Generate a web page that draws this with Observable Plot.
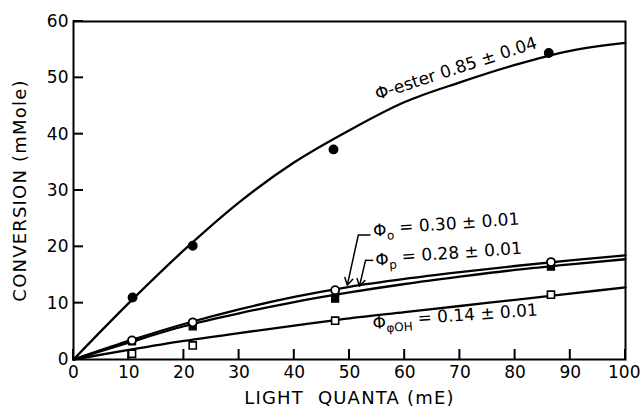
<!DOCTYPE html>
<html><head><meta charset="utf-8">
<script src="https://cdn.jsdelivr.net/npm/d3@7"></script>
<script src="https://cdn.jsdelivr.net/npm/@observablehq/plot@0.6"></script>
<style>html,body{margin:0;padding:0;background:#fff}</style>
</head><body><div id="chart"></div>
<script>
// Fitted curves, read at every 10 mE
const curveX = [0, 10, 20, 30, 40, 50, 60, 70, 80, 90, 100];
const esterCurve = [0, 10.0, 19.4, 27.9, 35.0, 40.7, 45.7, 49.2, 52.3, 54.8, 56.2];
const orthoCurve = [0, 3.3, 6.3, 8.9, 11.1, 12.9, 14.3, 15.5, 16.6, 17.6, 18.5];
const paraCurve = [0, 3.0, 5.9, 8.2, 10.2, 11.9, 13.4, 14.7, 15.9, 16.9, 17.8];
const phenolCurve = [0, 1.7, 3.3, 4.7, 6.0, 7.3, 8.4, 9.5, 10.6, 11.7, 12.8];

// Measured points
const esterX = [10.7, 21.6, 47.1, 86.1];
const esterY = [11.0, 20.2, 37.3, 54.4];
const measX = [10.6, 21.6, 47.4, 86.5];
const orthoY = [3.4, 6.6, 12.3, 17.3];
const paraY = [3.2, 5.9, 10.8, 16.5];
const phenolY = [1.0, 2.5, 6.9, 11.5];

// Ticks
const xTicks = [0, 10, 20, 30, 40, 50, 60, 70, 80, 90, 100];
const yTicks = [0, 10, 20, 30, 40, 50, 60];

// Annotations
const labelText = ["Φ-ester 0.85 ± 0.04", "Φ_{o} = 0.30 ± 0.01", "Φ_{p} = 0.28 ± 0.01", "Φ_{φOH} = 0.14 ± 0.01"];
const labelX = [54.7, 54.3, 54.7, 54.2];
const labelY = [47.0, 22.8, 17.6, 6.4];
const labelAngle = [-18, -4, -4, -4];

// Pointer arrows for Φo and Φp
const pointerStartX = [53.8, 54.3];
const pointerStartY = [22.1, 17.6];
const pointerElbowX = [51.6, 52.9];
const pointerTipX = [49.6, 51.8];
const pointerTipY = [13.2, 13.0];

const curve = (ys) => curveX.map((x, i) => ({x, y: ys[i]}));
const pts = (xs, ys) => xs.map((x, i) => ({x, y: ys[i]}));
const labels = labelText.map((t, i) => ({t, x: labelX[i], y: labelY[i], a: labelAngle[i]}));
const pointers = pointerStartX.map((x, i) => ({x1: x, y1: pointerStartY[i], xe: pointerElbowX[i], x2: pointerTipX[i], y2: pointerTipY[i]}));

const FONT = "DejaVu Sans";
const lw = 2.3;
const TICK = 10; // inward tick length, px

const chart = Plot.plot({
  width: 640, height: 409,
  marginLeft: 73, marginRight: 15, marginTop: 21, marginBottom: 50,
  x: {domain: [0, 100]},
  y: {domain: [0, 60]},
  style: {fontFamily: FONT, fontSize: "17px", color: "black", background: "white"},
  marks: [
    Plot.axisX({ticks: xTicks, tickSize: 0, tickPadding: 6, tickFormat: d => d, fontSize: 17,
      label: "LIGHT  QUANTA (mE)", labelAnchor: "center", labelOffset: 44, labelArrow: false}),
    Plot.axisY({ticks: yTicks, tickSize: 0, tickPadding: 5, tickFormat: d => d, fontSize: 17,
      label: "CONVERSION (mMole)", labelAnchor: "center", labelOffset: 60, labelArrow: false}),
    Plot.frame({stroke: "black", strokeWidth: 2}),
    Plot.line(curve(esterCurve), {x: "x", y: "y", curve: "monotone-x", stroke: "black", strokeWidth: lw}),
    Plot.line(curve(orthoCurve), {x: "x", y: "y", curve: "monotone-x", stroke: "black", strokeWidth: lw}),
    Plot.line(curve(paraCurve), {x: "x", y: "y", curve: "monotone-x", stroke: "black", strokeWidth: lw}),
    Plot.line(curve(phenolCurve), {x: "x", y: "y", curve: "monotone-x", stroke: "black", strokeWidth: lw}),
    Plot.dot(pts(esterX, esterY), {x: "x", y: "y", r: 4.2, fill: "black", stroke: "black"}),
    Plot.dot(pts(measX, paraY), {x: "x", y: "y", r: 4, symbol: "square", fill: "black", stroke: "black", strokeWidth: 1.2}),
    Plot.dot(pts(measX, orthoY), {x: "x", y: "y", r: 4, fill: "white", stroke: "black", strokeWidth: 1.8}),
    Plot.dot(pts(measX, phenolY), {x: "x", y: "y", r: 4, symbol: "square", fill: "white", stroke: "black", strokeWidth: 1.6}),
    Plot.link(pointers, {x1: "x1", y1: "y1", x2: "xe", y2: "y1", stroke: "black", strokeWidth: 1.5}),
    Plot.arrow(pointers, {x1: "xe", y1: "y1", x2: "x2", y2: "y2", stroke: "black", strokeWidth: 1.5, headLength: 8}),
    Plot.text(labels, {x: "x", y: "y", text: "t", rotate: "a", textAnchor: "start", fontSize: 17, fill: "black"})
  ]
});

// Inward tick marks, positioned with the plot's own scales
const sx = chart.scale("x"), sy = chart.scale("y");
const y0 = sy.apply(0), x0 = sx.apply(0);
const tg = d3.select(chart).append("g").attr("aria-label", "inward ticks")
  .attr("stroke", "black").attr("stroke-width", 2);
xTicks.forEach(v => {
  const px = sx.apply(v);
  tg.append("line").attr("x1", px).attr("x2", px).attr("y1", y0).attr("y2", y0 - TICK);
});
yTicks.forEach(v => {
  const py = sy.apply(v);
  tg.append("line").attr("x1", x0).attr("x2", x0 + TICK).attr("y1", py).attr("y2", py);
});

// Render subscripts written as _{...} as real tspans
d3.select(chart).selectAll("text").each(function() {
  const s = this.textContent;
  const m = s.match(/^(.*?)_\{(.*?)\}(.*)$/);
  if (!m) return;
  const el = d3.select(this);
  el.text(null);
  el.append("tspan").text(m[1]);
  el.append("tspan").attr("dy", "0.35em").attr("font-size", "12px").text(m[2]);
  el.append("tspan").attr("dy", "-0.35em").text(m[3]);
});
// wider lettering for axis titles, like the original
d3.select(chart).selectAll("g[aria-label='x-axis label'] text, g[aria-label='y-axis label'] text")
  .attr("font-size", 18).attr("letter-spacing", "1.2px");
// keep the last x tick label inside the picture
d3.select(chart).selectAll("g[aria-label='x-axis tick label'] text")
  .filter(function() { return this.textContent === "100"; })
  .attr("text-anchor", "end").attr("dx", 15);

document.getElementById("chart").appendChild(chart);
</script>
</body></html>
